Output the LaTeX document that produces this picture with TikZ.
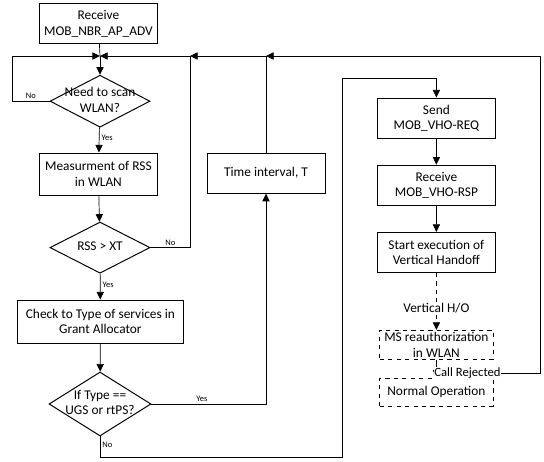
\documentclass[tikz,border=0pt]{standalone}
\usepackage{fontspec}
\setmainfont{Carlito}
\usetikzlibrary{shapes.geometric,arrows.meta}

\tikzset{every picture/.style={line width=0.5pt}}
\newcommand{\dtxt}[1]{\makebox[0pt]{\begin{tabular}{@{}c@{}}#1\end{tabular}}}

\begin{document}
\begin{tikzpicture}[
    box/.style={draw, line width=0.7pt, align=center, font=\fontsize{9.5}{11}\selectfont, minimum width=2.93cm, minimum height=1cm, inner sep=1pt},
    dbox/.style={box, dashed, minimum width=2.83cm, minimum height=0.72cm},
    dec/.style={diamond, draw, line width=0.7pt, font=\fontsize{9.5}{11}\selectfont, inner sep=0pt, minimum width=2.5cm, minimum height=1.3cm},
    lbl/.style={font=\fontsize{6}{7}\selectfont, inner sep=1.5pt},
    flow/.style={-{Triangle[length=1.9mm,width=1.8mm]}}
]
    \useasboundingbox (0,0) rectangle (13.6,-11.55);

    \node[box] (recv) at (2.46,-0.59) {Receive\\MOB\_NBR\_AP\_ADV};
    \node[dec] (scan) at (2.5,-2.53) {\dtxt{Need to scan\\WLAN?}};
    \node[box, minimum height=1.05cm] (meas) at (2.46,-4.35) {Measurment of RSS\\in WLAN};
    \node[dec, minimum height=1.28cm] (rss) at (2.5,-6.19) {\dtxt{RSS > XT}};
    \node[box, minimum width=4.13cm, minimum height=1.08cm] (check) at (2.51,-8.04) {Check to Type of services in\\Grant Allocator};
    \node[dec, minimum width=2.55cm, minimum height=1.6cm] (type) at (2.5,-10.1) {\dtxt{If Type ==\\UGS or rtPS?}};

    \node[box, minimum width=2.95cm] (time) at (6.65,-4.33) {Time interval, T};

    \node[box] (send) at (10.91,-2.95) {Send\\MOB\_VHO-REQ};
    \node[box] (rsp) at (10.91,-4.63) {Receive\\MOB\_VHO-RSP};
    \node[box] (start) at (10.91,-6.31) {Start execution of\\Vertical Handoff};
    \node[dbox] (msre) at (10.91,-8.62) {MS reauthorization\\in WLAN};
    \node[dbox, minimum height=0.7cm] (normal) at (10.91,-9.8) {Normal Operation};

    \coordinate (j0) at (2.5,-1.4);
    \coordinate (j1) at (4.75,-1.4);
    \coordinate (j2) at (6.65,-1.4);
    \coordinate (nw) at (0.3,-1.4);
    \coordinate (ne) at (13.5,-1.4);
    \coordinate (bl) at (8.55,-11.43);
    \coordinate (tl) at (8.55,-1.95);
    \coordinate (cr) at (10.91,-9.33);

    \draw (recv) -- (j0);
    \draw[flow] (j0) -- (scan);
    \draw[flow] (scan.west) -| node[lbl, above, pos=0.25] {No} (nw) -- (j0);
    \draw[flow] (scan) -- node[lbl, right, pos=0.4] {Yes} (meas);
    \draw[flow] (meas) -- (rss);
    \draw[flow] (rss.east) -| node[lbl, above, pos=0.25] {No} (j1) -- (j0);
    \draw[flow] (rss) -- node[lbl, right, pos=0.45] {Yes} (check);
    \draw[flow] (check) -- (type);
    \draw[flow] (type.east) -| node[lbl, above, pos=0.22] {Yes} (time.south);
    \draw[flow] (time.north) |- (j1);
    \draw[flow] (type.south) |- node[lbl, right, pos=0.2] {No} (bl) -- (tl) -| (send.north);

    \draw[flow] (send) -- (rsp);
    \draw[flow] (rsp) -- (start);
    \draw[flow, dashed] (start) -- node[fill=white, font=\fontsize{9.5}{11}\selectfont, inner sep=1pt, pos=0.62] {Vertical H/O} (msre);
    \draw[flow] (msre) -- (normal);
    \draw[flow] (cr) -| node[fill=white, font=\fontsize{9}{10}\selectfont, inner sep=0.5pt, pos=0.15] {Call Rejected} (ne) -- (j2);
\end{tikzpicture}
\end{document}
